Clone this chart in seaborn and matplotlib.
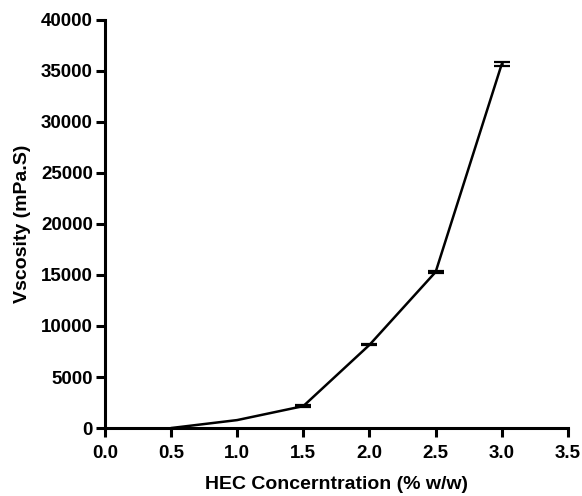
import matplotlib
matplotlib.use("Agg")
import matplotlib.pyplot as plt
import seaborn as sns
import pandas as pd

concentration = [0.5, 1.0, 1.5, 2.0, 2.5, 3.0]
viscosity = [0, 780, 2150, 8150, 15300, 35700]
viscosity_sd = [0, 0, 60, 60, 60, 200]

x_ticks = [0.0, 0.5, 1.0, 1.5, 2.0, 2.5, 3.0, 3.5]
y_ticks = [0, 5000, 10000, 15000, 20000, 25000, 30000, 35000, 40000]

sns.set_theme(style="ticks")
plt.rcParams['font.family'] = ['Liberation Sans', 'DejaVu Sans']
plt.rcParams['text.color'] = 'black'
plt.rcParams['axes.labelcolor'] = 'black'

df = pd.DataFrame({"conc": concentration, "visc": viscosity, "sd": viscosity_sd})
err = df[df["sd"] > 0]

fig = plt.figure(figsize=(5.82, 4.96), dpi=100)
ax = fig.add_axes([0.180, 0.137, 0.796, 0.823])

sns.lineplot(data=df, x="conc", y="visc", ax=ax, color="black", linewidth=1.8)
ax.errorbar(err["conc"], err["visc"], yerr=err["sd"], fmt="none", ecolor="black",
            elinewidth=1.8, capsize=5.7, capthick=1.6)

ax.set_xlim(0, 3.5)
ax.set_ylim(0, 40000)
ax.set_xticks(x_ticks)
ax.set_xticklabels([f"{t:.1f}" for t in x_ticks])
ax.set_yticks(y_ticks)
ax.set_yticklabels([str(t) for t in y_ticks])

for s in ["top", "right"]:
    ax.spines[s].set_visible(False)
for s in ["left", "bottom"]:
    ax.spines[s].set_linewidth(2.2)
    ax.spines[s].set_color("black")

ax.tick_params(axis="both", direction="out", length=6.5, width=2.2, colors="black",
               labelsize=13.5, labelcolor="black")
ax.tick_params(axis="x", pad=6)
ax.tick_params(axis="y", pad=2)
for lbl in ax.get_xticklabels() + ax.get_yticklabels():
    lbl.set_fontweight("bold")

ax.set_xlabel("HEC Concerntration (% w/w)", fontsize=14, fontweight="bold",
              labelpad=10, color="black")
ax.set_ylabel("Vscosity (mPa.S)", fontsize=14, fontweight="bold", labelpad=7,
              color="black")

fig.savefig("out.png", dpi=100)
